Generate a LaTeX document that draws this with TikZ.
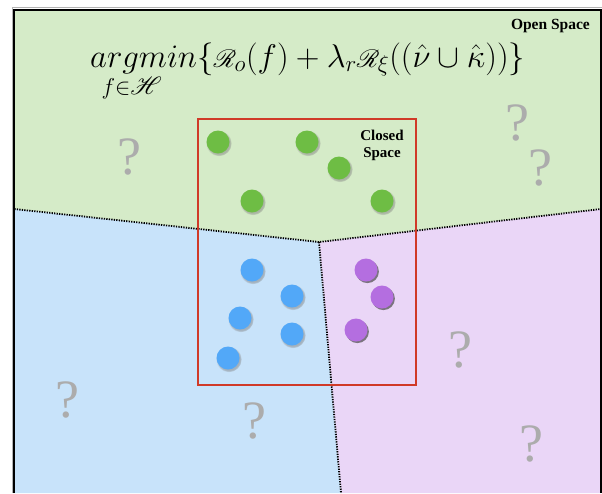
\RequirePackage{fix-cm}
\documentclass[tikz,border=0pt]{standalone}
\usepackage{amsmath}
\usepackage{mathrsfs}
\usepackage[no-math]{fontspec}
\newfontfamily\labelfont{Liberation Serif}
\usetikzlibrary{shadows}

\definecolor{openGreen}{RGB}{213,235,200}
\definecolor{classBlue}{RGB}{200,227,250}
\definecolor{classPurple}{RGB}{234,214,247}
\definecolor{knownGreen}{RGB}{110,189,68}
\definecolor{knownBlue}{RGB}{82,168,248}
\definecolor{knownPurple}{RGB}{180,110,224}
\definecolor{closedRed}{RGB}{208,58,40}
\definecolor{unknownGray}{RGB}{172,172,172}

\begin{document}
\begin{tikzpicture}[x=1pt, y=-1pt,
    dot/.style={circle, minimum size=23pt, inner sep=0},
    soft/.style={circular drop shadow={shadow xshift=0.8pt, shadow yshift=-1.2pt,
                 shadow scale=1.12, opacity=0.5}},
    hard/.style={drop shadow={shadow xshift=1.4pt, shadow yshift=-1.6pt,
                 fill=black!75, opacity=0.65}},
    unknown/.style={font=\labelfont\fontsize{54}{54}\selectfont, text=unknownGray, inner sep=0},
    boundary/.style={line width=1.8, dash pattern=on 1.3pt off 1.2pt}]
  \useasboundingbox (0,0) rectangle (602,493);

  \coordinate (TL) at (14.3, 9.7);
  \coordinate (TR) at (601, 9.7);
  \coordinate (BL) at (14.3, 493);
  \coordinate (BR) at (601, 493);
  \coordinate (L) at (14.3, 209);
  \coordinate (R) at (601, 209);
  \coordinate (J) at (319, 242);
  \coordinate (B) at (341, 493);

  % regions
  \fill [openGreen] (TL) -- (TR) -- (R) -- (J) -- (L) -- cycle;
  \fill [classBlue] (L) -- (J) -- (B) -- (BL) -- cycle;
  \fill [classPurple] (J) -- (R) -- (BR) -- (B) -- cycle;

  \draw [boundary] (L) -- (J) -- (R);
  \draw [boundary] (J) -- (B);

  % frame
  \draw [line width=1.5, black!30] (12.3,493) -- (12.3,7.7) -- (602,7.7);
  \draw [line width=2.3] (BL) -- (TL) -- (TR) -- (BR);

  \draw [closedRed, line width=2] (198,119) rectangle (416,385);

  \foreach \x/\y [count=\i] in {218/142, 307/142, 339/168, 252/201, 382/201}
  {
    \node [dot, fill=knownGreen, soft] (G-\i) at (\x, \y) {};
  }
  \foreach \x/\y [count=\i] in {252/270, 292/296, 240/318, 292/334, 228/358}
  {
    \node [dot, fill=knownBlue, soft] (B-\i) at (\x, \y) {};
  }
  \foreach \x/\y [count=\i] in {366/270, 382/297, 356/330}
  {
    \node [dot, fill=knownPurple, hard] (P-\i) at (\x, \y) {};
  }

  \foreach \x/\y [count=\i] in {129/157, 517/123, 540/168, 460/350, 67/400, 254/421, 531/444}
  {
    \node [unknown] (Q-\i) at (\x, \y) {?};
  }

  \node [anchor=base west, inner sep=0, font=\fontsize{32.8}{38}\selectfont] (objective) at (90, 67)
    {$\underset{f\in\mathscr{H}\hspace{24pt}}{argmin}\{\mathscr{R}_o(f)+\lambda_r\mathscr{R}_\xi((\hat{\nu}\cup\hat{\kappa}))\}$};

  \node [anchor=east, inner sep=0, font=\labelfont\bfseries\fontsize{15.5}{18}\selectfont] (open) at (590, 26) {Open Space};
  \node [align=center, inner sep=0, font=\labelfont\bfseries\fontsize{15}{17}\selectfont] (closed) at (382, 145) {Closed\\Space};
\end{tikzpicture}
\end{document}
